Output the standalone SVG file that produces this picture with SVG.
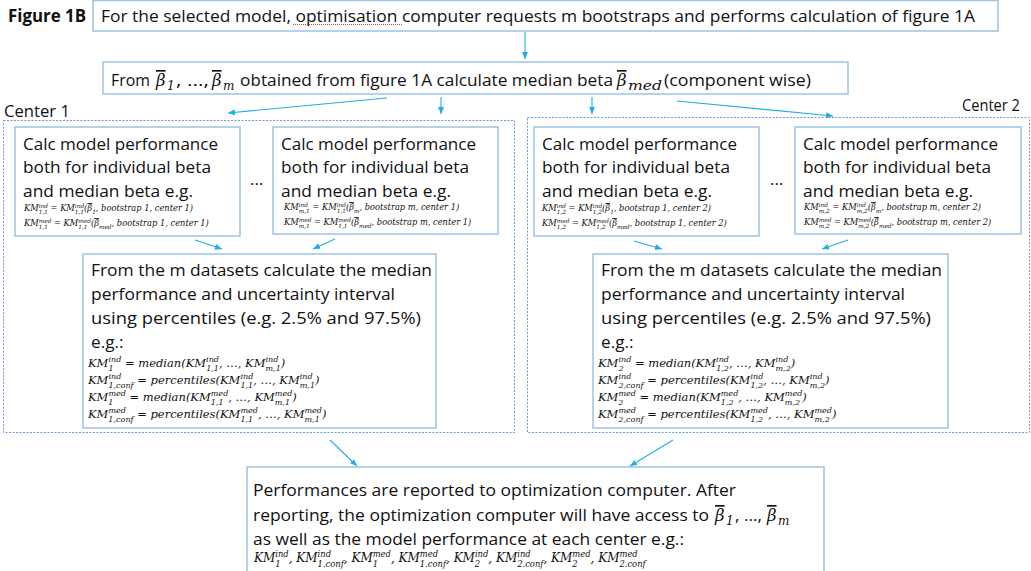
<svg xmlns="http://www.w3.org/2000/svg" width="1031" height="571" viewBox="0 0 1031 571">
<style>
.t{font-family:"Open Sans","Noto Sans","Liberation Sans",sans-serif;font-size:17.2px;fill:#111}
.bx{fill:#fff;stroke:#9DC3E6;stroke-width:1.5}
.ctr{fill:none;stroke:#6E99CF;stroke-width:1;stroke-dasharray:2 1.5}
.f{font-family:"DejaVu Serif","Liberation Serif",serif;font-style:italic;fill:#111}
.fa{font-size:8.3px}
.fc{font-size:11.5px}
.fb{font-size:12px}
.s{font-size:70%}
.o{text-decoration:overline}
.c{stroke:#22ADE6;stroke-width:1.1;fill:none;marker-end:url(#ah)}
</style>
<defs>
<marker id="ah" markerUnits="userSpaceOnUse" markerWidth="8" markerHeight="8" viewBox="0 0 8 8" refX="7" refY="4" orient="auto"><path d="M0,1 L7,4 L0,7 z" fill="#22ADE6"/></marker>
</defs>
<rect width="1031" height="571" fill="#fff"/>

<text class="t" x="8" y="22" font-weight="bold" font-size="16" textLength="78" lengthAdjust="spacingAndGlyphs">Figure 1B</text>

<g id="top">
<rect class="bx" x="93" y="0.5" width="905" height="30.5"/>
<text class="t" x="101" y="22" textLength="874" lengthAdjust="spacingAndGlyphs">For the selected model, optimisation computer requests m bootstraps and performs calculation of figure 1A</text>
<path d="M293,24.5 L402,24.5" stroke="#E04040" stroke-width="1" stroke-dasharray="1 1"/>
</g>

<g id="median">
<rect class="bx" x="103" y="62" width="745" height="32"/>
<text class="t" x="111" y="86" textLength="39" lengthAdjust="spacingAndGlyphs">From</text>
<text class="f o" x="156" y="86" font-size="16.5">β</text>
<text class="f" x="167" y="90" font-size="12">1</text>
<text class="t" x="176" y="86" textLength="33" lengthAdjust="spacingAndGlyphs">, …, </text>
<text class="f o" x="212" y="86" font-size="16.5">β</text>
<text class="f" x="223" y="90" font-size="12">m</text>
<text class="t" x="240" y="86" textLength="373" lengthAdjust="spacingAndGlyphs">obtained from figure 1A calculate median beta</text>
<text class="f o" x="617" y="86" font-size="16.5">β</text>
<text class="f" x="628" y="90" font-size="13" textLength="34" lengthAdjust="spacingAndGlyphs">med</text>
<text class="t" x="664" y="86" textLength="147" lengthAdjust="spacingAndGlyphs">(component wise)</text>
</g>

<g id="center1">
<rect class="ctr" x="3.5" y="120.5" width="511" height="312"/>
<text class="t" x="4" y="117" textLength="66" lengthAdjust="spacingAndGlyphs">Center 1</text>
</g>
<g id="center2">
<rect class="ctr" x="527.5" y="117.5" width="502" height="315"/>
<text class="t" x="962" y="111" textLength="58" lengthAdjust="spacingAndGlyphs">Center 2</text>
</g>

<g id="c1-boot1">
<rect class="bx" x="15" y="127" width="225" height="109"/>
<text class="t" x="23" y="150" textLength="195" lengthAdjust="spacingAndGlyphs">Calc model performance</text>
<text class="t" x="23" y="173" textLength="188" lengthAdjust="spacingAndGlyphs">both for individual beta</text>
<text class="t" x="23" y="197" textLength="170" lengthAdjust="spacingAndGlyphs">and median beta e.g.</text>
<text class="f fa" x="24" y="211">KM<tspan class="s" dy="-0.6em">ind</tspan><tspan class="s" dx="-1.604em" dy="1.15em">1,1</tspan><tspan dy="-0.385em"> = KM</tspan><tspan class="s" dy="-0.6em">ind</tspan><tspan class="s" dx="-1.604em" dy="1.15em">1,1</tspan><tspan dy="-0.385em">(</tspan><tspan class="o">β</tspan><tspan class="s" dy="0.55em">1</tspan><tspan dy="-0.385em">, bootstrap 1, center 1)</tspan></text>
<text class="f fa" x="24" y="226">KM<tspan class="s" dy="-0.6em">med</tspan><tspan class="s" dx="-2.18em" dy="1.15em">1,1</tspan><tspan dx="0.413em" dy="-0.385em"> = KM</tspan><tspan class="s" dy="-0.6em">med</tspan><tspan class="s" dx="-2.18em" dy="1.15em">1,1</tspan><tspan dx="0.413em" dy="-0.385em">(</tspan><tspan class="o">β</tspan><tspan class="s" dy="0.55em">med</tspan><tspan dy="-0.385em">, bootstrap 1, center 1)</tspan></text>
</g>

<text class="t" x="250" y="185">…</text>

<g id="c1-bootm">
<rect class="bx" x="273" y="127" width="225" height="107"/>
<text class="t" x="281" y="150" textLength="195" lengthAdjust="spacingAndGlyphs">Calc model performance</text>
<text class="t" x="281" y="173" textLength="188" lengthAdjust="spacingAndGlyphs">both for individual beta</text>
<text class="t" x="281" y="197" textLength="170" lengthAdjust="spacingAndGlyphs">and median beta e.g.</text>
<text class="f fa" x="284" y="210">KM<tspan class="s" dy="-0.6em">ind</tspan><tspan class="s" dx="-1.604em" dy="1.15em">m,1</tspan><tspan dy="-0.385em"> = KM</tspan><tspan class="s" dy="-0.6em">ind</tspan><tspan class="s" dx="-1.604em" dy="1.15em">1,1</tspan><tspan dy="-0.385em">(</tspan><tspan class="o">β</tspan><tspan class="s" dy="0.55em">m</tspan><tspan dy="-0.385em">, bootstrap m, center 1)</tspan></text>
<text class="f fa" x="284" y="225">KM<tspan class="s" dy="-0.6em">med</tspan><tspan class="s" dx="-2.18em" dy="1.15em">m,1</tspan><tspan dx="0.195em" dy="-0.385em"> = KM</tspan><tspan class="s" dy="-0.6em">med</tspan><tspan class="s" dx="-2.18em" dy="1.15em">1,1</tspan><tspan dx="0.413em" dy="-0.385em">(</tspan><tspan class="o">β</tspan><tspan class="s" dy="0.55em">med</tspan><tspan dy="-0.385em">, bootstrap m, center 1)</tspan></text>
</g>

<g id="c1-summary">
<rect class="bx" x="83" y="254" width="353" height="174"/>
<text class="t" x="91" y="276" textLength="341" lengthAdjust="spacingAndGlyphs">From the m datasets calculate the median</text>
<text class="t" x="91" y="300" textLength="304" lengthAdjust="spacingAndGlyphs">performance and uncertainty interval</text>
<text class="t" x="91" y="324" textLength="330" lengthAdjust="spacingAndGlyphs">using percentiles (e.g. 2.5% and 97.5%)</text>
<text class="t" x="91" y="348">e.g.:</text>
<text class="f fc" x="88" y="367">KM<tspan class="s" dy="-0.6em">ind</tspan><tspan class="s" dx="-1.604em" dy="1.15em">1</tspan><tspan dx="0.678em" dy="-0.385em"> = median(KM</tspan><tspan class="s" dy="-0.6em">ind</tspan><tspan class="s" dx="-1.604em" dy="1.15em">1,1</tspan><tspan dy="-0.385em">, …, KM</tspan><tspan class="s" dy="-0.6em">ind</tspan><tspan class="s" dx="-1.604em" dy="1.15em">m,1</tspan><tspan dy="-0.385em">)</tspan></text>
<text class="f fc" x="88" y="384">KM<tspan class="s" dy="-0.6em">ind</tspan><tspan class="s" dx="-1.604em" dy="1.15em">1,conf</tspan><tspan dy="-0.385em"> = percentiles(KM</tspan><tspan class="s" dy="-0.6em">ind</tspan><tspan class="s" dx="-1.604em" dy="1.15em">1,1</tspan><tspan dy="-0.385em">, …, KM</tspan><tspan class="s" dy="-0.6em">ind</tspan><tspan class="s" dx="-1.604em" dy="1.15em">m,1</tspan><tspan dy="-0.385em">)</tspan></text>
<text class="f fc" x="88" y="401">KM<tspan class="s" dy="-0.6em">med</tspan><tspan class="s" dx="-2.18em" dy="1.15em">1</tspan><tspan dx="1.081em" dy="-0.385em"> = median(KM</tspan><tspan class="s" dy="-0.6em">med</tspan><tspan class="s" dx="-2.18em" dy="1.15em">1,1</tspan><tspan dx="0.413em" dy="-0.385em">, …, KM</tspan><tspan class="s" dy="-0.6em">med</tspan><tspan class="s" dx="-2.18em" dy="1.15em">m,1</tspan><tspan dx="0.195em" dy="-0.385em">)</tspan></text>
<text class="f fc" x="88" y="418">KM<tspan class="s" dy="-0.6em">med</tspan><tspan class="s" dx="-2.18em" dy="1.15em">1,conf</tspan><tspan dy="-0.385em"> = percentiles(KM</tspan><tspan class="s" dy="-0.6em">med</tspan><tspan class="s" dx="-2.18em" dy="1.15em">1,1</tspan><tspan dx="0.413em" dy="-0.385em">, …, KM</tspan><tspan class="s" dy="-0.6em">med</tspan><tspan class="s" dx="-2.18em" dy="1.15em">m,1</tspan><tspan dx="0.195em" dy="-0.385em">)</tspan></text>
</g>

<g id="c2-boot1">
<rect class="bx" x="534" y="127" width="225" height="109"/>
<text class="t" x="542" y="150" textLength="195" lengthAdjust="spacingAndGlyphs">Calc model performance</text>
<text class="t" x="542" y="173" textLength="188" lengthAdjust="spacingAndGlyphs">both for individual beta</text>
<text class="t" x="542" y="197" textLength="170" lengthAdjust="spacingAndGlyphs">and median beta e.g.</text>
<text class="f fa" x="542" y="211">KM<tspan class="s" dy="-0.6em">ind</tspan><tspan class="s" dx="-1.604em" dy="1.15em">1,2</tspan><tspan dy="-0.385em"> = KM</tspan><tspan class="s" dy="-0.6em">ind</tspan><tspan class="s" dx="-1.604em" dy="1.15em">1,2</tspan><tspan dy="-0.385em">(</tspan><tspan class="o">β</tspan><tspan class="s" dy="0.55em">1</tspan><tspan dy="-0.385em">, bootstrap 1, center 2)</tspan></text>
<text class="f fa" x="542" y="226">KM<tspan class="s" dy="-0.6em">med</tspan><tspan class="s" dx="-2.18em" dy="1.15em">1,2</tspan><tspan dx="0.413em" dy="-0.385em"> = KM</tspan><tspan class="s" dy="-0.6em">med</tspan><tspan class="s" dx="-2.18em" dy="1.15em">1,2</tspan><tspan dx="0.413em" dy="-0.385em">(</tspan><tspan class="o">β</tspan><tspan class="s" dy="0.55em">med</tspan><tspan dy="-0.385em">, bootstrap 1, center 2)</tspan></text>
</g>

<text class="t" x="770" y="185">…</text>

<g id="c2-bootm">
<rect class="bx" x="795" y="127" width="226" height="107"/>
<text class="t" x="803" y="150" textLength="195" lengthAdjust="spacingAndGlyphs">Calc model performance</text>
<text class="t" x="803" y="173" textLength="188" lengthAdjust="spacingAndGlyphs">both for individual beta</text>
<text class="t" x="803" y="197" textLength="170" lengthAdjust="spacingAndGlyphs">and median beta e.g.</text>
<text class="f fa" x="804" y="210">KM<tspan class="s" dy="-0.6em">ind</tspan><tspan class="s" dx="-1.604em" dy="1.15em">m,2</tspan><tspan dy="-0.385em"> = KM</tspan><tspan class="s" dy="-0.6em">ind</tspan><tspan class="s" dx="-1.604em" dy="1.15em">m,2</tspan><tspan dy="-0.385em">(</tspan><tspan class="o">β</tspan><tspan class="s" dy="0.55em">m</tspan><tspan dy="-0.385em">, bootstrap m, center 2)</tspan></text>
<text class="f fa" x="804" y="225">KM<tspan class="s" dy="-0.6em">med</tspan><tspan class="s" dx="-2.18em" dy="1.15em">m,2</tspan><tspan dx="0.195em" dy="-0.385em"> = KM</tspan><tspan class="s" dy="-0.6em">med</tspan><tspan class="s" dx="-2.18em" dy="1.15em">m,2</tspan><tspan dx="0.195em" dy="-0.385em">(</tspan><tspan class="o">β</tspan><tspan class="s" dy="0.55em">med</tspan><tspan dy="-0.385em">, bootstrap m, center 2)</tspan></text>
</g>

<g id="c2-summary">
<rect class="bx" x="593" y="254" width="355" height="174"/>
<text class="t" x="601" y="276" textLength="341" lengthAdjust="spacingAndGlyphs">From the m datasets calculate the median</text>
<text class="t" x="601" y="300" textLength="304" lengthAdjust="spacingAndGlyphs">performance and uncertainty interval</text>
<text class="t" x="601" y="324" textLength="330" lengthAdjust="spacingAndGlyphs">using percentiles (e.g. 2.5% and 97.5%)</text>
<text class="t" x="601" y="348">e.g.:</text>
<text class="f fc" x="598" y="367">KM<tspan class="s" dy="-0.6em">ind</tspan><tspan class="s" dx="-1.604em" dy="1.15em">2</tspan><tspan dx="0.678em" dy="-0.385em"> = median(KM</tspan><tspan class="s" dy="-0.6em">ind</tspan><tspan class="s" dx="-1.604em" dy="1.15em">1,2</tspan><tspan dy="-0.385em">, …, KM</tspan><tspan class="s" dy="-0.6em">ind</tspan><tspan class="s" dx="-1.604em" dy="1.15em">m,2</tspan><tspan dy="-0.385em">)</tspan></text>
<text class="f fc" x="598" y="384">KM<tspan class="s" dy="-0.6em">ind</tspan><tspan class="s" dx="-1.604em" dy="1.15em">2,conf</tspan><tspan dy="-0.385em"> = percentiles(KM</tspan><tspan class="s" dy="-0.6em">ind</tspan><tspan class="s" dx="-1.604em" dy="1.15em">1,2</tspan><tspan dy="-0.385em">, …, KM</tspan><tspan class="s" dy="-0.6em">ind</tspan><tspan class="s" dx="-1.604em" dy="1.15em">m,2</tspan><tspan dy="-0.385em">)</tspan></text>
<text class="f fc" x="598" y="401">KM<tspan class="s" dy="-0.6em">med</tspan><tspan class="s" dx="-2.18em" dy="1.15em">2</tspan><tspan dx="1.081em" dy="-0.385em"> = median(KM</tspan><tspan class="s" dy="-0.6em">med</tspan><tspan class="s" dx="-2.18em" dy="1.15em">1,2</tspan><tspan dx="0.413em" dy="-0.385em">, …, KM</tspan><tspan class="s" dy="-0.6em">med</tspan><tspan class="s" dx="-2.18em" dy="1.15em">m,2</tspan><tspan dx="0.195em" dy="-0.385em">)</tspan></text>
<text class="f fc" x="598" y="418">KM<tspan class="s" dy="-0.6em">med</tspan><tspan class="s" dx="-2.18em" dy="1.15em">2,conf</tspan><tspan dy="-0.385em"> = percentiles(KM</tspan><tspan class="s" dy="-0.6em">med</tspan><tspan class="s" dx="-2.18em" dy="1.15em">1,2</tspan><tspan dx="0.413em" dy="-0.385em">, …, KM</tspan><tspan class="s" dy="-0.6em">med</tspan><tspan class="s" dx="-2.18em" dy="1.15em">m,2</tspan><tspan dx="0.195em" dy="-0.385em">)</tspan></text>
</g>

<g id="report">
<rect class="bx" x="247" y="467" width="577" height="110"/>
<text class="t" x="253" y="496" textLength="483" lengthAdjust="spacingAndGlyphs">Performances are reported to optimization computer. After</text>
<text class="t" x="253" y="521" textLength="456" lengthAdjust="spacingAndGlyphs">reporting, the optimization computer will have access to</text>
<text class="f o" x="715" y="521" font-size="16.5">β</text>
<text class="f" x="726" y="525" font-size="12">1</text>
<text class="t" x="735" y="521" textLength="27" lengthAdjust="spacingAndGlyphs">, …,</text>
<text class="f o" x="767" y="521" font-size="16.5">β</text>
<text class="f" x="778" y="525" font-size="12">m</text>
<text class="t" x="253" y="545" textLength="431" lengthAdjust="spacingAndGlyphs">as well as the model performance at each center e.g.:</text>
<text class="f fb" x="254" y="562">KM<tspan class="s" dy="-0.6em">ind</tspan><tspan class="s" dx="-1.604em" dy="1.15em">1</tspan><tspan dx="0.678em" dy="-0.385em">, KM</tspan><tspan class="s" dy="-0.6em">ind</tspan><tspan class="s" dx="-1.604em" dy="1.15em">1.conf</tspan><tspan dy="-0.385em">, KM</tspan><tspan class="s" dy="-0.6em">med</tspan><tspan class="s" dx="-2.18em" dy="1.15em">1</tspan><tspan dx="1.081em" dy="-0.385em">, KM</tspan><tspan class="s" dy="-0.6em">med</tspan><tspan class="s" dx="-2.18em" dy="1.15em">1.conf</tspan><tspan dy="-0.385em">, KM</tspan><tspan class="s" dy="-0.6em">ind</tspan><tspan class="s" dx="-1.604em" dy="1.15em">2</tspan><tspan dx="0.678em" dy="-0.385em">, KM</tspan><tspan class="s" dy="-0.6em">ind</tspan><tspan class="s" dx="-1.604em" dy="1.15em">2.conf</tspan><tspan dy="-0.385em">, KM</tspan><tspan class="s" dy="-0.6em">med</tspan><tspan class="s" dx="-2.18em" dy="1.15em">2</tspan><tspan dx="1.081em" dy="-0.385em">, KM</tspan><tspan class="s" dy="-0.6em">med</tspan><tspan class="s" dx="-2.18em" dy="1.15em">2.conf</tspan></text>
</g>

<g id="connectors">
<path class="c" d="M525,32 L525,59"/>
<path class="c" d="M387,98 L228,113"/>
<path class="c" d="M441,97 L441,114"/>
<path class="c" d="M592,97 L592,114"/>
<path class="c" d="M677,101 L833,116"/>
<path class="c" d="M195,240 L222,249"/>
<path class="c" d="M335,239 L313,249"/>
<path class="c" d="M634,241 L662,249"/>
<path class="c" d="M848,240 L822,249"/>
<path class="c" d="M330,440 L357,466"/>
<path class="c" d="M673,440 L630,466"/>
</g>
</svg>
